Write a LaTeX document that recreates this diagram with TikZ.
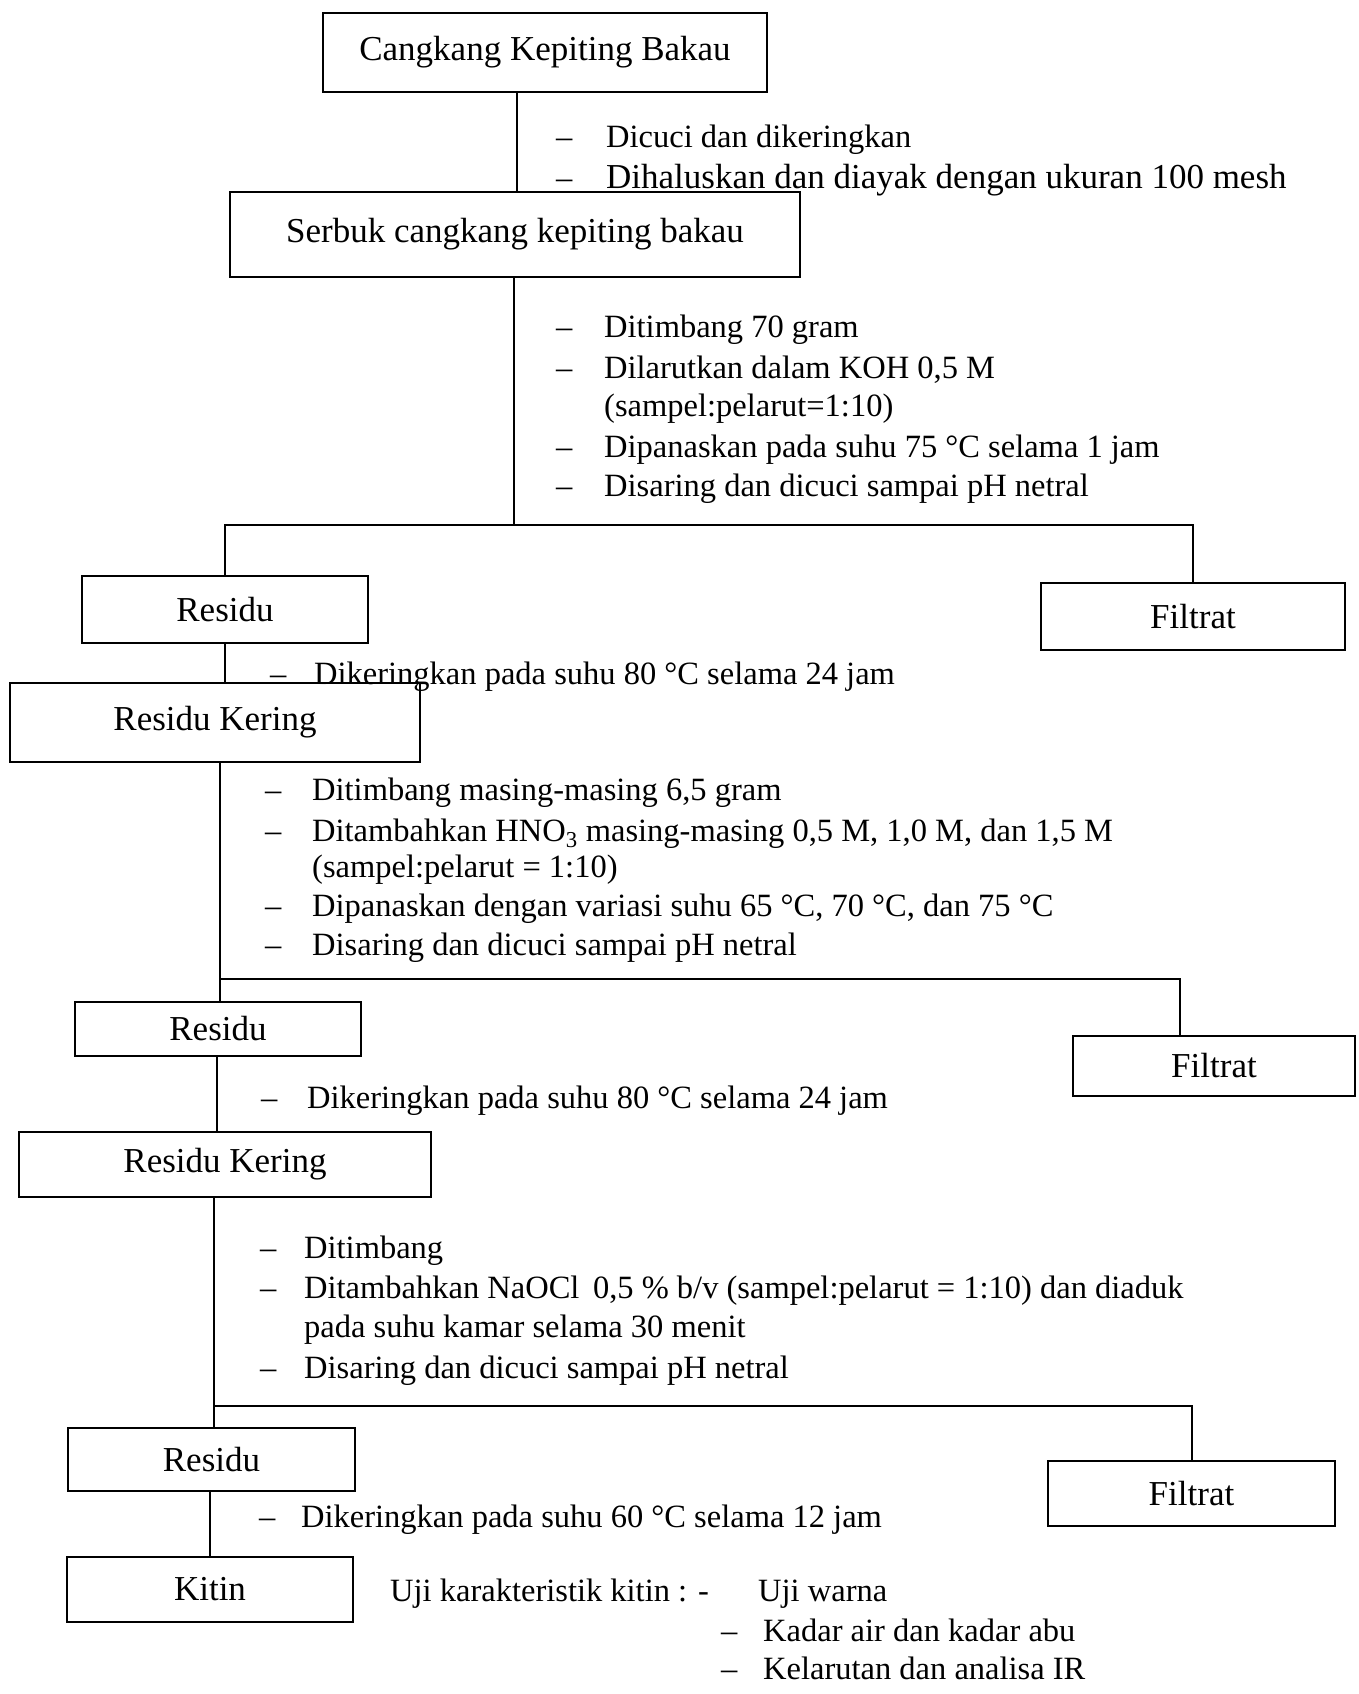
\documentclass[tikz,border=0pt]{standalone}
\usepackage{fontspec}
\setmainfont{Liberation Serif}
\begin{document}
\begin{tikzpicture}[x=1pt,y=-1pt,
  box/.style={draw, line width=2.4pt, inner sep=0pt, font=\fontsize{35}{40}\selectfont},
  conn/.style={line width=1.5pt},
  txt/.style={anchor=base west, inner sep=0pt, font=\fontsize{32.5}{38}\selectfont},
  bigtxt/.style={txt, font=\fontsize{35}{40}\selectfont}]
\useasboundingbox (0,0) rectangle (1358,1694);
% boxes
\node[box, minimum width=444pt, minimum height=79pt] (b1) at (545,52.5) {Cangkang Kepiting Bakau};
\node[box, minimum width=570pt, minimum height=85pt] (b2) at (515,234.5) {Serbuk cangkang kepiting bakau};
\node[box, minimum width=286pt, minimum height=67pt] (r1) at (225,609.5) {Residu};
\node[box, minimum width=304pt, minimum height=67pt] (f1) at (1193,616.5) {Filtrat};
\node[box, minimum width=410pt, minimum height=79pt] (k1) at (215,722.5) {Residu Kering};
\node[box, minimum width=286pt, minimum height=54pt, text depth=2pt] (r2) at (218,1029) {Residu};
\node[box, minimum width=282pt, minimum height=60pt] (f2) at (1214,1066) {Filtrat};
\node[box, minimum width=412pt, minimum height=65pt] (k2) at (225,1164.5) {Residu Kering};
\node[box, minimum width=287pt, minimum height=63pt] (r3) at (211.5,1459.5) {Residu};
\node[box, minimum width=287pt, minimum height=65pt] (f3) at (1191.5,1493.5) {Filtrat};
\node[box, minimum width=286pt, minimum height=65pt] (kt) at (210,1589.5) {Kitin};
% connectors
\coordinate (x1) at (517,0);
\draw[conn] (x1 |- b1.south) -- (x1 |- b2.north);
\coordinate (s1) at (514,525);
\draw[conn] (s1 |- b2.south) -- (s1);
\draw[conn] (r1.north) |- (s1) -| (f1.north);
\draw[conn] (r1.south) -- (r1.south |- k1.north);
\coordinate (s2) at (220,979);
\coordinate (d2) at (1180,979);
\draw[conn] (s2 |- k1.south) -- (s2 |- r2.north);
\draw[conn] (s2) -- (d2) -- (d2 |- f2.north);
\coordinate (x5) at (217,0);
\draw[conn] (x5 |- r2.south) -- (x5 |- k2.north);
\coordinate (s3) at (214,1406);
\coordinate (d3) at (1192,1406);
\draw[conn] (s3 |- k2.south) -- (s3 |- r3.north);
\draw[conn] (s3) -- (d3) -- (d3 |- f3.north);
\draw[conn] (r3.south -| kt.north) -- (kt.north);
% step texts block 1
\node[txt] (a1d) at (556,147) {–}; \node[txt] (a1) at (606,147) {Dicuci dan dikeringkan};
\node[txt] (a2d) at (556,188) {–}; \node[bigtxt] (a2) at (606,188) {Dihaluskan dan diayak dengan ukuran 100 mesh};
% block 2
\node[txt] (b1d) at (556,337) {–}; \node[txt] (bt1) at (604,337) {Ditimbang 70 gram};
\node[txt] (b2d) at (556,378) {–}; \node[txt] (bt2) at (604,378) {Dilarutkan dalam KOH 0,5 M};
\node[txt] (bt2b) at (604,416) {(sampel:pelarut=1:10)};
\node[txt] (b3d) at (556,457) {–}; \node[txt] (bt3) at (604,457) {Dipanaskan pada suhu 75 °C selama 1 jam};
\node[txt] (b4d) at (556,496) {–}; \node[txt] (bt4) at (604,496) {Disaring dan dicuci sampai pH netral};
% block 3
\node[txt] (c1d) at (270,684) {–}; \node[txt] (ct1) at (314,684) {Dikeringkan pada suhu 80 °C selama 24 jam};
% block 4
\node[txt] (d1d) at (265,800) {–}; \node[txt] (dt1) at (312,800) {Ditimbang masing-masing 6,5 gram};
\node[txt] (d2d) at (265,841) {–}; \node[txt] (dt2) at (312,841) {Ditambahkan HNO\textsubscript{3} masing-masing 0,5 M, 1,0 M, dan 1,5 M};
\node[txt] (dt2b) at (312,877) {(sampel:pelarut = 1:10)};
\node[txt] (d3d) at (265,916) {–}; \node[txt] (dt3) at (312,916) {Dipanaskan dengan variasi suhu 65 °C, 70 °C, dan 75 °C};
\node[txt] (d4d) at (265,955) {–}; \node[txt] (dt4) at (312,955) {Disaring dan dicuci sampai pH netral};
% block 5
\node[txt] (e1d) at (261,1108) {–}; \node[txt] (et1) at (307,1108) {Dikeringkan pada suhu 80 °C selama 24 jam};
% block 6
\node[txt] (g1d) at (260,1258) {–}; \node[txt] (gt1) at (304,1258) {Ditimbang};
\node[txt] (g2d) at (260,1298) {–}; \node[txt] (gt2) at (304,1298) {Ditambahkan NaOCl\, 0,5 \% b/v (sampel:pelarut = 1:10) dan diaduk};
\node[txt] (gt2b) at (304,1337) {pada suhu kamar selama 30 menit};
\node[txt] (g3d) at (260,1378) {–}; \node[txt] (gt3) at (304,1378) {Disaring dan dicuci sampai pH netral};
% block 7
\node[txt] (h1d) at (259,1527) {–}; \node[txt] (ht1) at (301,1527) {Dikeringkan pada suhu 60 °C selama 12 jam};
% characteristics
\node[txt] (u0) at (390,1601) {Uji karakteristik kitin : -};
\node[txt] (u1) at (758,1601) {Uji warna};
\node[txt] (u2d) at (721,1641) {–}; \node[txt] (u2) at (763,1641) {Kadar air dan kadar abu};
\node[txt] (u3d) at (721,1679) {–}; \node[txt] (u3) at (763,1679) {Kelarutan dan analisa IR};
\end{tikzpicture}
\end{document}
